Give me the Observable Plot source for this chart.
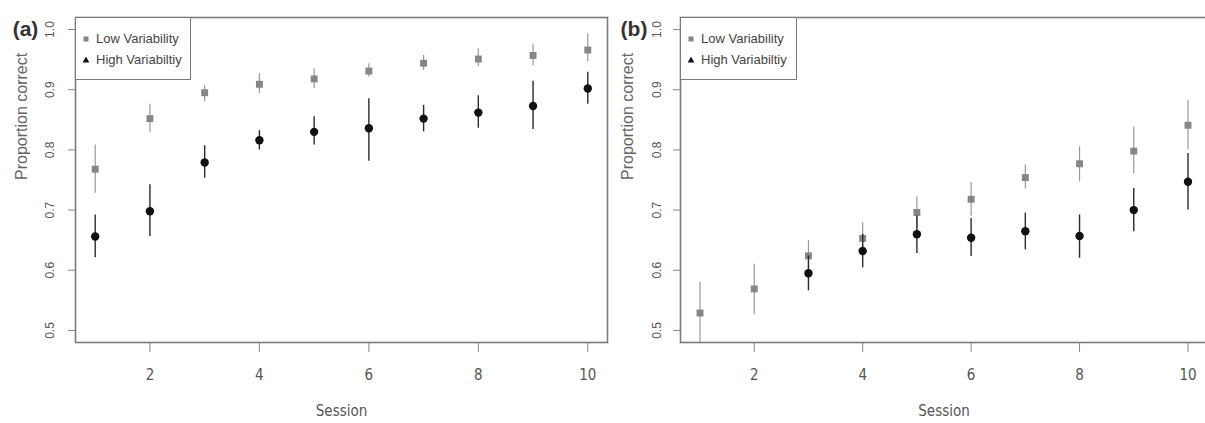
<!DOCTYPE html>
<html><head><meta charset="utf-8">
<script src="https://cdn.jsdelivr.net/npm/d3@7"></script>
<script src="https://cdn.jsdelivr.net/npm/@observablehq/plot@0.6"></script>
<style>
html,body{margin:0;padding:0;background:#fff;}
#wrap{position:relative;width:1205px;height:423px;overflow:hidden;background:#fff;}
.panel{position:absolute;top:0;}
.legend{position:absolute;top:17px;height:63px;box-sizing:border-box;border:1.6px solid #7a7a7a;background:#fff;font-family:"Liberation Sans",Arial,sans-serif;font-size:13px;color:#444;}
.legend .row{position:absolute;left:0;height:16px;line-height:16px;white-space:nowrap;}
.legend .sym{position:absolute;top:0;width:16px;height:16px;}
.legend .lab{position:absolute;top:0;}
</style>
</head><body>
<div id="wrap"></div>
<script>
// ---- data ----
const sessions = [1, 2, 3, 4, 5, 6, 7, 8, 9, 10];
const xTicks = [2, 4, 6, 8, 10];
const yTicks = [0.5, 0.6, 0.7, 0.8, 0.9, 1.0];
const seriesNames = ["Low Variability", "High Variabiltiy"];
const panelLabels = ["(a)", "(b)"];
const xLabel = "Session";
const yLabel = "Proportion correct";

// Panel (a)
const aLowMean  = [0.768, 0.852, 0.895, 0.909, 0.918, 0.931, 0.944, 0.951, 0.957, 0.966];
const aLowLo    = [0.728, 0.829, 0.880, 0.894, 0.902, 0.921, 0.932, 0.938, 0.940, 0.946];
const aLowHi    = [0.808, 0.876, 0.907, 0.927, 0.935, 0.943, 0.957, 0.968, 0.976, 0.993];
const aHighMean = [0.656, 0.698, 0.779, 0.816, 0.830, 0.836, 0.852, 0.862, 0.873, 0.902];
const aHighLo   = [0.621, 0.656, 0.753, 0.800, 0.808, 0.781, 0.830, 0.836, 0.834, 0.876];
const aHighHi   = [0.692, 0.742, 0.807, 0.832, 0.855, 0.885, 0.874, 0.890, 0.914, 0.929];

// Panel (b)
const bLowMean  = [0.529, 0.569, 0.624, 0.653, 0.696, 0.718, 0.754, 0.777, 0.798, 0.841];
const bLowLo    = [0.476, 0.526, 0.600, 0.628, 0.670, 0.690, 0.735, 0.747, 0.760, 0.800];
const bLowHi    = [0.580, 0.610, 0.649, 0.679, 0.722, 0.746, 0.775, 0.805, 0.838, 0.882];
const bHighMean = [null, null, 0.595, 0.632, 0.660, 0.654, 0.665, 0.657, 0.700, 0.747];
const bHighLo   = [null, null, 0.566, 0.604, 0.628, 0.623, 0.634, 0.620, 0.664, 0.700];
const bHighHi   = [null, null, 0.624, 0.660, 0.690, 0.686, 0.695, 0.692, 0.736, 0.794];

const table = (m, lo, hi) => sessions.map((s, i) => ({s, m: m[i], lo: lo[i], hi: hi[i]})).filter(d => d.m != null);

const NARROW = '"Liberation Sans Narrow","DejaVu Sans Condensed","Liberation Sans",Arial,sans-serif';
const SANS = '"Liberation Sans",Arial,sans-serif';
const LOW_C = "#868686", HIGH_C = "#111";

function panel({low, high, marginLeft, label, labDx, ylabDx, yPad}) {
  return Plot.plot({
    width: 620, height: 423,
    marginLeft, marginRight: 13, marginTop: 17, marginBottom: 81,
    x: {domain: [0.64, 10.36]},
    y: {domain: [0.48, 1.02]},
    style: {background: "transparent", overflow: "visible"},
    marks: [
      Plot.axisX({ticks: xTicks, tickSize: 10, tickPadding: 17, stroke: "#888", fill: "#555",
                  fontSize: 15, fontFamily: NARROW, label: null}),
      Plot.axisY({ticks: yTicks, tickSize: 7, tickPadding: yPad, tickRotate: -90, textAnchor: "middle",
                  tickFormat: d3.format(".1f"), stroke: "#888", fill: "#555",
                  fontSize: 12, fontFamily: SANS, label: null}),
      Plot.text([xLabel], {frameAnchor: "bottom", dy: 63, lineAnchor: "top", fontSize: 15,
                  fontFamily: NARROW, fill: "#555"}),
      Plot.text([yLabel], {frameAnchor: "left", dx: ylabDx, rotate: -90, fontSize: 16,
                  fontFamily: SANS, fill: "#666"}),
      Plot.text([label], {frameAnchor: "top-left", dx: labDx, dy: 12, textAnchor: "middle",
                  lineAnchor: "middle", fontSize: 21, fontWeight: 600, fontFamily: SANS, fill: "#333"}),
      Plot.ruleX(low, {x: "s", y1: "lo", y2: "hi", stroke: "#999", strokeWidth: 1.2, clip: true}),
      Plot.dot(low, {x: "s", y: "m", symbol: "square", r: 3.9, fill: LOW_C, stroke: "none"}),
      Plot.ruleX(high, {x: "s", y1: "lo", y2: "hi", stroke: "#2a2a2a", strokeWidth: 1.4, clip: true}),
      Plot.dot(high, {x: "s", y: "m", symbol: "circle", r: 4.2, fill: HIGH_C, stroke: "none"}),
      Plot.frame({stroke: "#7a7a7a", strokeWidth: 1.6})
    ]
  });
}

function legend(left, width) {
  const div = document.createElement("div");
  div.className = "legend";
  div.style.left = left + "px";
  div.style.width = width + "px";
  const syms = [
    '<svg width="16" height="16"><rect x="5.5" y="5.5" width="5" height="5" fill="' + LOW_C + '"/></svg>',
    '<svg width="16" height="16"><path d="M8,4.5 L11.3,10.5 L4.7,10.5 Z" fill="' + HIGH_C + '"/></svg>'
  ];
  seriesNames.forEach((name, i) => {
    const row = document.createElement("div");
    row.className = "row";
    row.style.top = (i === 0 ? 13 : 34) + "px";
    row.innerHTML = '<span class="sym" style="left:2px">' + syms[i] + '</span><span class="lab" style="left:20px">' + name + '</span>';
    div.appendChild(row);
  });
  return div;
}

const wrap = document.getElementById("wrap");
const pa = panel({low: table(aLowMean, aLowLo, aLowHi), high: table(aHighMean, aHighLo, aHighHi),
                  marginLeft: 75, label: panelLabels[0], labDx: -50, ylabDx: -54, yPad: 15});
pa.classList.add("panel"); pa.style.left = "0px";
const pb = panel({low: table(bLowMean, bLowLo, bLowHi), high: table(bHighMean, bHighLo, bHighHi),
                  marginLeft: 80, label: panelLabels[1], labDx: -46.5, ylabDx: -53, yPad: 13});
pb.classList.add("panel"); pb.style.left = "600px";
wrap.appendChild(pa);
wrap.appendChild(pb);
wrap.appendChild(legend(75, 116));
wrap.appendChild(legend(680, 117));
</script>
</body></html>
